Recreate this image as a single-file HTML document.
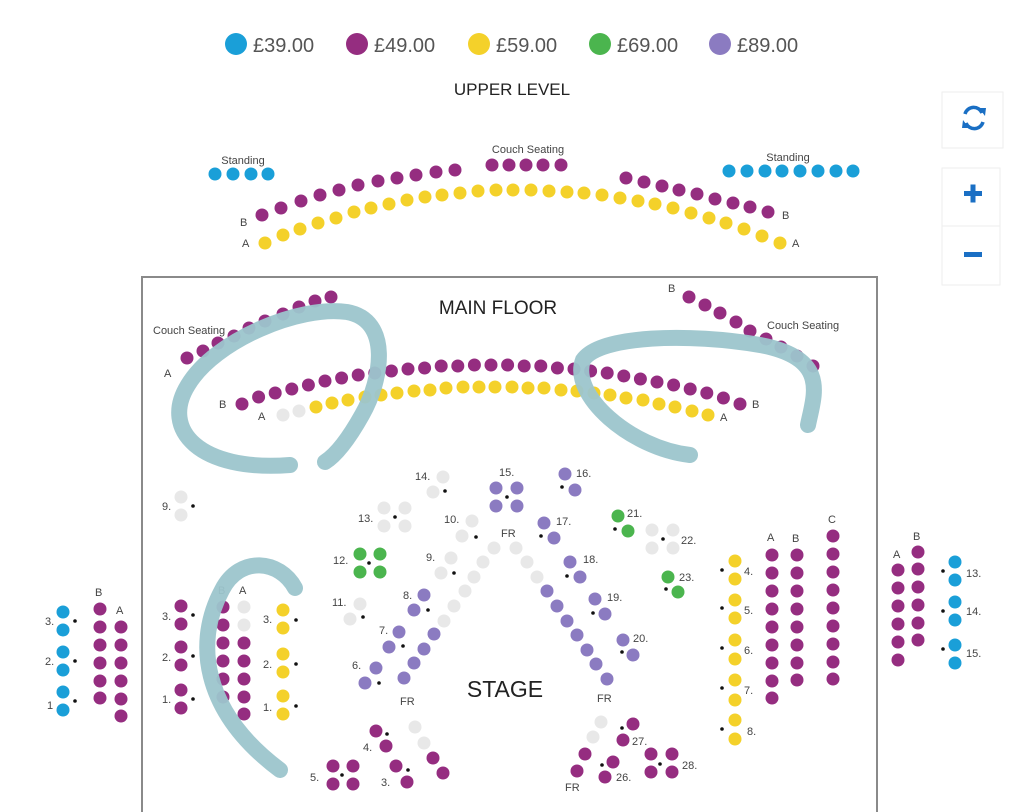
<!DOCTYPE html>
<html><head><meta charset="utf-8"><style>
html,body{margin:0;padding:0;background:#fff;width:1024px;height:812px;overflow:hidden}
svg{display:block;font-family:"Liberation Sans",Arial,sans-serif}
circle{r:6.5px}
.b{fill:#1a9fd8}.p{fill:#952d80}.y{fill:#f4d12a}.g{fill:#4bb54e}.l{fill:#8b7bc1}.e{fill:#e8e8e8}
.d{fill:#111;r:1.8px}
.t{font-size:11px;fill:#444}
.lg{r:11px}
</style></head><body>
<svg width="1024" height="812" viewBox="0 0 1024 812">
<!-- legend -->
<circle class="b lg" cx="236" cy="44"/><text x="253" y="52" font-size="20" fill="#555">£39.00</text>
<circle class="p lg" cx="357" cy="44"/><text x="374" y="52" font-size="20" fill="#555">£49.00</text>
<circle class="y lg" cx="479" cy="44"/><text x="496" y="52" font-size="20" fill="#555">£59.00</text>
<circle class="g lg" cx="600" cy="44"/><text x="617" y="52" font-size="20" fill="#555">£69.00</text>
<circle class="l lg" cx="720" cy="44"/><text x="737" y="52" font-size="20" fill="#555">£89.00</text>
<text x="512" y="95" font-size="17" fill="#222" text-anchor="middle">UPPER LEVEL</text>

<!-- buttons -->
<rect x="942" y="92" width="61" height="56" fill="#fff" stroke="#eee"/>
<rect x="942" y="168" width="58" height="117" fill="#fff" stroke="#eee"/>
<line x1="942" y1="226" x2="1000" y2="226" stroke="#eee"/>
<g fill="none" stroke="#1a6fc4" stroke-width="3.5">
<path d="M965,114 A9,9 0 0 1 982,113"/><path d="M983,122 A9,9 0 0 1 966,123"/>
</g>
<path d="M979,108 L986,108 L985,116 Z" fill="#1a6fc4"/><path d="M969,128 L962,128 L963,120 Z" fill="#1a6fc4"/>
<rect x="964" y="191" width="18" height="5" fill="#1a6fc4"/><rect x="970.5" y="184.5" width="5" height="18" fill="#1a6fc4"/>
<rect x="964" y="252" width="18" height="5" fill="#1a6fc4"/>

<!-- upper level -->
<text class="t" x="243" y="164" text-anchor="middle">Standing</text>
<text class="t" x="528" y="153" text-anchor="middle">Couch Seating</text>
<text class="t" x="788" y="161" text-anchor="middle">Standing</text>
<g class="b"><circle cx="215" cy="174"/><circle cx="233" cy="174"/><circle cx="251" cy="174"/><circle cx="268" cy="174"/>
<circle cx="729" cy="171"/><circle cx="747" cy="171"/><circle cx="765" cy="171"/><circle cx="782" cy="171"/><circle cx="800" cy="171"/><circle cx="818" cy="171"/><circle cx="836" cy="171"/><circle cx="853" cy="171"/></g>
<g class="p"><circle cx="492" cy="165"/><circle cx="509" cy="165"/><circle cx="526" cy="165"/><circle cx="543" cy="165"/><circle cx="561" cy="165"/>
<circle cx="262" cy="215"/><circle cx="281" cy="208"/><circle cx="301" cy="201"/><circle cx="320" cy="195"/><circle cx="339" cy="190"/><circle cx="358" cy="185"/><circle cx="378" cy="181"/><circle cx="397" cy="178"/><circle cx="416" cy="175"/><circle cx="436" cy="172"/><circle cx="455" cy="170"/>
<circle cx="626" cy="178"/><circle cx="644" cy="182"/><circle cx="662" cy="186"/><circle cx="679" cy="190"/><circle cx="697" cy="194"/><circle cx="715" cy="199"/><circle cx="733" cy="203"/><circle cx="750" cy="207"/><circle cx="768" cy="212"/></g>
<g class="y"><circle cx="265" cy="243"/><circle cx="283" cy="235"/><circle cx="300" cy="229"/><circle cx="318" cy="223"/><circle cx="336" cy="218"/><circle cx="354" cy="212"/><circle cx="371" cy="208"/><circle cx="389" cy="204"/><circle cx="407" cy="200"/><circle cx="425" cy="197"/><circle cx="442" cy="195"/><circle cx="460" cy="193"/><circle cx="478" cy="191"/><circle cx="496" cy="190"/><circle cx="513" cy="190"/><circle cx="531" cy="190"/><circle cx="549" cy="191"/><circle cx="567" cy="192"/><circle cx="584" cy="193"/><circle cx="602" cy="195"/><circle cx="620" cy="198"/><circle cx="638" cy="201"/><circle cx="655" cy="204"/><circle cx="673" cy="208"/><circle cx="691" cy="213"/><circle cx="709" cy="218"/><circle cx="726" cy="223"/><circle cx="744" cy="229"/><circle cx="762" cy="236"/><circle cx="780" cy="243"/></g>
<text class="t" x="240" y="226">B</text><text class="t" x="782" y="219">B</text>
<text class="t" x="242" y="247">A</text><text class="t" x="792" y="247">A</text>

<!-- main floor box -->
<rect x="142" y="277" width="735" height="560" fill="none" stroke="#8a8a8a" stroke-width="2"/>
<text x="498" y="314" font-size="19" fill="#222" text-anchor="middle">MAIN FLOOR</text>
<text class="t" x="153" y="334">Couch Seating</text>
<text class="t" x="767" y="329">Couch Seating</text>
<text class="t" x="164" y="377">A</text><text class="t" x="668" y="292">B</text>
<text class="t" x="219" y="408">B</text><text class="t" x="752" y="408">B</text>
<text class="t" x="258" y="420">A</text><text class="t" x="720" y="421">A</text>
<g class="p">
<circle cx="187" cy="358"/><circle cx="203" cy="351"/><circle cx="218" cy="343"/><circle cx="234" cy="336"/><circle cx="249" cy="328"/><circle cx="265" cy="321"/><circle cx="283" cy="314"/><circle cx="299" cy="307"/><circle cx="315" cy="301"/><circle cx="331" cy="297"/>
<circle cx="689" cy="297"/><circle cx="705" cy="305"/><circle cx="720" cy="313"/><circle cx="736" cy="322"/><circle cx="750" cy="331"/><circle cx="766" cy="339"/><circle cx="781" cy="347"/><circle cx="797" cy="356"/><circle cx="813" cy="366"/>
<circle cx="242" cy="404"/><circle cx="258.6" cy="397"/><circle cx="275.2" cy="393"/><circle cx="291.8" cy="389"/><circle cx="308.4" cy="385"/><circle cx="325" cy="381"/><circle cx="341.6" cy="378"/><circle cx="358.2" cy="375"/><circle cx="374.8" cy="373"/><circle cx="391.4" cy="371"/><circle cx="408" cy="369"/><circle cx="424.6" cy="368"/><circle cx="441.2" cy="366"/><circle cx="457.8" cy="366"/><circle cx="474.4" cy="365"/><circle cx="491" cy="365"/><circle cx="507.6" cy="365"/><circle cx="524.2" cy="366"/><circle cx="540.8" cy="366"/><circle cx="557.4" cy="368"/><circle cx="574" cy="369"/><circle cx="590.6" cy="371"/><circle cx="607.2" cy="373"/><circle cx="623.8" cy="376"/><circle cx="640.4" cy="379"/><circle cx="657" cy="382"/><circle cx="673.6" cy="385"/><circle cx="690.2" cy="389"/><circle cx="706.8" cy="393"/><circle cx="723.4" cy="398"/><circle cx="740" cy="404"/></g>
<circle class="e" cx="283" cy="415"/><circle class="e" cx="299" cy="411"/>
<g class="y"><circle cx="316" cy="407"/><circle cx="332" cy="403"/><circle cx="348" cy="400"/><circle cx="365" cy="397"/><circle cx="381" cy="395"/><circle cx="397" cy="393"/><circle cx="414" cy="391"/><circle cx="430" cy="390"/><circle cx="446" cy="388"/><circle cx="463" cy="387"/><circle cx="479" cy="387"/><circle cx="495" cy="387"/><circle cx="512" cy="387"/><circle cx="528" cy="388"/><circle cx="544" cy="388"/><circle cx="561" cy="390"/><circle cx="577" cy="391"/><circle cx="594" cy="393"/><circle cx="610" cy="395"/><circle cx="626" cy="398"/><circle cx="643" cy="400"/><circle cx="659" cy="404"/><circle cx="675" cy="407"/><circle cx="692" cy="411"/><circle cx="708" cy="415"/></g>

<!-- left outside -->
<g class="b"><circle cx="63" cy="612"/><circle cx="63" cy="630"/><circle cx="63" cy="652"/><circle cx="63" cy="670"/><circle cx="63" cy="692"/><circle cx="63" cy="710"/></g>
<circle class="d" cx="75" cy="621"/><circle class="d" cx="75" cy="661"/><circle class="d" cx="75" cy="701"/>
<text class="t" x="45" y="625">3.</text><text class="t" x="45" y="665">2.</text><text class="t" x="47" y="709">1</text>
<text class="t" x="95" y="596">B</text><text class="t" x="116" y="614">A</text>
<g class="p"><circle cx="100" cy="609"/><circle cx="100" cy="627"/><circle cx="100" cy="645"/><circle cx="100" cy="663"/><circle cx="100" cy="681"/><circle cx="100" cy="698"/>
<circle cx="121" cy="627"/><circle cx="121" cy="645"/><circle cx="121" cy="663"/><circle cx="121" cy="681"/><circle cx="121" cy="699"/><circle cx="121" cy="716"/></g>

<!-- inside left -->
<circle class="e" cx="181" cy="497"/><circle class="e" cx="181" cy="515"/><circle class="d" cx="193" cy="506"/><text class="t" x="162" y="510">9.</text>
<g class="p"><circle cx="181" cy="606"/><circle cx="181" cy="624"/><circle cx="181" cy="647"/><circle cx="181" cy="665"/><circle cx="181" cy="690"/><circle cx="181" cy="708"/>
<circle cx="223" cy="607"/><circle cx="223" cy="625"/><circle cx="223" cy="643"/><circle cx="223" cy="661"/><circle cx="223" cy="679"/><circle cx="223" cy="697"/>
<circle cx="244" cy="643"/><circle cx="244" cy="661"/><circle cx="244" cy="679"/><circle cx="244" cy="697"/><circle cx="244" cy="714"/></g>
<circle class="e" cx="244" cy="607"/><circle class="e" cx="244" cy="625"/>
<circle class="d" cx="193" cy="615"/><circle class="d" cx="193" cy="656"/><circle class="d" cx="193" cy="699"/>
<text class="t" x="162" y="620">3.</text><text class="t" x="162" y="661">2.</text><text class="t" x="162" y="703">1.</text>
<text class="t" x="218" y="594">B</text><text class="t" x="239" y="594">A</text>
<g class="y"><circle cx="283" cy="610"/><circle cx="283" cy="628"/><circle cx="283" cy="654"/><circle cx="283" cy="672"/><circle cx="283" cy="696"/><circle cx="283" cy="714"/></g>
<circle class="d" cx="296" cy="620"/><circle class="d" cx="296" cy="664"/><circle class="d" cx="296" cy="706"/>
<text class="t" x="263" y="623">3.</text><text class="t" x="263" y="668">2.</text><text class="t" x="263" y="711">1.</text>

<!-- center tables -->
<circle class="e" cx="443" cy="477"/><circle class="e" cx="433" cy="492"/><circle class="d" cx="445" cy="491"/><text class="t" x="415" y="480">14.</text>
<g class="l"><circle cx="496" cy="488"/><circle cx="517" cy="488"/><circle cx="496" cy="506"/><circle cx="517" cy="506"/></g><circle class="d" cx="507" cy="497"/><text class="t" x="499" y="476">15.</text>
<g class="l"><circle cx="565" cy="474"/><circle cx="575" cy="490"/></g><circle class="d" cx="562" cy="487"/><text class="t" x="576" y="477">16.</text>
<g class="e"><circle cx="384" cy="508"/><circle cx="405" cy="508"/><circle cx="384" cy="526"/><circle cx="405" cy="526"/></g><circle class="d" cx="395" cy="517"/><text class="t" x="358" y="522">13.</text>
<g class="e"><circle cx="472" cy="521"/><circle cx="462" cy="536"/></g><circle class="d" cx="476" cy="537"/><text class="t" x="444" y="523">10.</text>
<text class="t" x="501" y="537">FR</text>
<g class="l"><circle cx="544" cy="523"/><circle cx="554" cy="538"/></g><circle class="d" cx="541" cy="536"/><text class="t" x="556" y="525">17.</text>
<g class="g"><circle cx="618" cy="516"/><circle cx="628" cy="531"/></g><circle class="d" cx="615" cy="529"/><text class="t" x="627" y="517">21.</text>
<g class="e"><circle cx="652" cy="530"/><circle cx="673" cy="530"/><circle cx="652" cy="548"/><circle cx="673" cy="548"/></g><circle class="d" cx="663" cy="539"/><text class="t" x="681" y="544">22.</text>
<g class="g"><circle cx="360" cy="554"/><circle cx="380" cy="554"/><circle cx="360" cy="572"/><circle cx="380" cy="572"/></g><circle class="d" cx="369" cy="563"/><text class="t" x="333" y="564">12.</text>
<g class="e"><circle cx="451" cy="558"/><circle cx="441" cy="573"/></g><circle class="d" cx="454" cy="573"/><text class="t" x="426" y="561">9.</text>
<g class="e"><circle cx="494" cy="548"/><circle cx="483" cy="562"/><circle cx="474" cy="577"/><circle cx="465" cy="591"/><circle cx="454" cy="606"/><circle cx="444" cy="621"/>
<circle cx="516" cy="548"/><circle cx="527" cy="562"/><circle cx="537" cy="577"/></g>
<g class="l"><circle cx="434" cy="634"/><circle cx="424" cy="649"/><circle cx="414" cy="663"/><circle cx="404" cy="678"/>
<circle cx="547" cy="591"/><circle cx="557" cy="606"/><circle cx="567" cy="621"/><circle cx="577" cy="635"/><circle cx="587" cy="650"/><circle cx="596" cy="664"/><circle cx="607" cy="679"/></g>
<g class="l"><circle cx="570" cy="562"/><circle cx="580" cy="577"/></g><circle class="d" cx="567" cy="576"/><text class="t" x="583" y="563">18.</text>
<g class="g"><circle cx="668" cy="577"/><circle cx="678" cy="592"/></g><circle class="d" cx="666" cy="589"/><text class="t" x="679" y="581">23.</text>
<g class="e"><circle cx="360" cy="604"/><circle cx="350" cy="619"/></g><circle class="d" cx="363" cy="617"/><text class="t" x="332" y="606">11.</text>
<g class="l"><circle cx="424" cy="595"/><circle cx="414" cy="610"/></g><circle class="d" cx="428" cy="610"/><text class="t" x="403" y="599">8.</text>
<g class="l"><circle cx="595" cy="599"/><circle cx="605" cy="614"/></g><circle class="d" cx="593" cy="613"/><text class="t" x="607" y="601">19.</text>
<g class="l"><circle cx="399" cy="632"/><circle cx="389" cy="647"/></g><circle class="d" cx="403" cy="646"/><text class="t" x="379" y="634">7.</text>
<g class="l"><circle cx="623" cy="640"/><circle cx="633" cy="655"/></g><circle class="d" cx="622" cy="652"/><text class="t" x="633" y="642">20.</text>
<g class="l"><circle cx="376" cy="668"/><circle cx="365" cy="683"/></g><circle class="d" cx="379" cy="683"/><text class="t" x="352" y="669">6.</text>
<text class="t" x="400" y="705">FR</text><text class="t" x="597" y="702">FR</text><text class="t" x="565" y="791">FR</text>
<text x="505" y="697" font-size="23" fill="#222" text-anchor="middle">STAGE</text>
<g class="p"><circle cx="376" cy="731"/><circle cx="386" cy="746"/></g><circle class="d" cx="387" cy="734"/><text class="t" x="363" y="751">4.</text>
<g class="e"><circle cx="415" cy="727"/><circle cx="424" cy="743"/></g>
<g class="p"><circle cx="433" cy="758"/><circle cx="443" cy="773"/></g>
<g class="p"><circle cx="333" cy="766"/><circle cx="353" cy="766"/><circle cx="333" cy="784"/><circle cx="353" cy="784"/></g><circle class="d" cx="342" cy="775"/><text class="t" x="310" y="781">5.</text>
<g class="p"><circle cx="396" cy="766"/><circle cx="407" cy="782"/></g><circle class="d" cx="408" cy="770"/><text class="t" x="381" y="786">3.</text>
<g class="e"><circle cx="601" cy="722"/><circle cx="593" cy="737"/></g>
<g class="p"><circle cx="633" cy="724"/><circle cx="623" cy="740"/></g><circle class="d" cx="622" cy="728"/><text class="t" x="632" y="745">27.</text>
<g class="p"><circle cx="585" cy="754"/><circle cx="577" cy="771"/></g>
<g class="p"><circle cx="613" cy="762"/><circle cx="605" cy="777"/></g><circle class="d" cx="602" cy="765"/><text class="t" x="616" y="781">26.</text>
<g class="p"><circle cx="651" cy="754"/><circle cx="672" cy="754"/><circle cx="651" cy="772"/><circle cx="672" cy="772"/></g><circle class="d" cx="660" cy="764"/><text class="t" x="682" y="769">28.</text>

<!-- right inside -->
<g class="y"><circle cx="735" cy="561"/><circle cx="735" cy="579"/><circle cx="735" cy="600"/><circle cx="735" cy="618"/><circle cx="735" cy="640"/><circle cx="735" cy="659"/><circle cx="735" cy="680"/><circle cx="735" cy="700"/><circle cx="735" cy="720"/><circle cx="735" cy="739"/></g>
<circle class="d" cx="722" cy="570"/><circle class="d" cx="722" cy="608"/><circle class="d" cx="722" cy="648"/><circle class="d" cx="722" cy="688"/><circle class="d" cx="722" cy="729"/>
<text class="t" x="744" y="575">4.</text><text class="t" x="744" y="614">5.</text><text class="t" x="744" y="654">6.</text><text class="t" x="744" y="694">7.</text><text class="t" x="747" y="735">8.</text>
<text class="t" x="767" y="541">A</text><text class="t" x="792" y="542">B</text><text class="t" x="828" y="523">C</text>
<g class="p"><circle cx="772" cy="555"/><circle cx="772" cy="573"/><circle cx="772" cy="591"/><circle cx="772" cy="609"/><circle cx="772" cy="627"/><circle cx="772" cy="645"/><circle cx="772" cy="663"/><circle cx="772" cy="681"/><circle cx="772" cy="698"/>
<circle cx="797" cy="555"/><circle cx="797" cy="573"/><circle cx="797" cy="591"/><circle cx="797" cy="609"/><circle cx="797" cy="627"/><circle cx="797" cy="645"/><circle cx="797" cy="663"/><circle cx="797" cy="680"/>
<circle cx="833" cy="536"/><circle cx="833" cy="554"/><circle cx="833" cy="572"/><circle cx="833" cy="590"/><circle cx="833" cy="608"/><circle cx="833" cy="626"/><circle cx="833" cy="644"/><circle cx="833" cy="662"/><circle cx="833" cy="679"/></g>

<!-- right outside -->
<text class="t" x="893" y="558">A</text><text class="t" x="913" y="540">B</text>
<g class="p"><circle cx="898" cy="570"/><circle cx="898" cy="588"/><circle cx="898" cy="606"/><circle cx="898" cy="624"/><circle cx="898" cy="642"/><circle cx="898" cy="660"/>
<circle cx="918" cy="552"/><circle cx="918" cy="569"/><circle cx="918" cy="587"/><circle cx="918" cy="605"/><circle cx="918" cy="623"/><circle cx="918" cy="640"/></g>
<g class="b"><circle cx="955" cy="562"/><circle cx="955" cy="580"/><circle cx="955" cy="602"/><circle cx="955" cy="620"/><circle cx="955" cy="645"/><circle cx="955" cy="663"/></g>
<circle class="d" cx="943" cy="571"/><circle class="d" cx="943" cy="611"/><circle class="d" cx="943" cy="649"/>
<text class="t" x="966" y="577">13.</text><text class="t" x="966" y="615">14.</text><text class="t" x="966" y="657">15.</text>

<!-- teal scribbles -->
<g fill="none" stroke="#9cc5cc" stroke-width="16" stroke-linecap="round" opacity="0.95">
<path d="M290,465 C200,472 160,430 188,385 C215,340 300,305 347,312 C392,320 382,380 362,415 C348,440 336,455 325,462"/>
<path d="M808,425 C814,395 830,358 760,345 C690,333 600,335 583,360 C570,395 630,448 690,455"/>
<path d="M295,588 C280,560 240,555 222,590 C195,640 200,710 280,770"/>
</g>
</svg>
</body></html>
